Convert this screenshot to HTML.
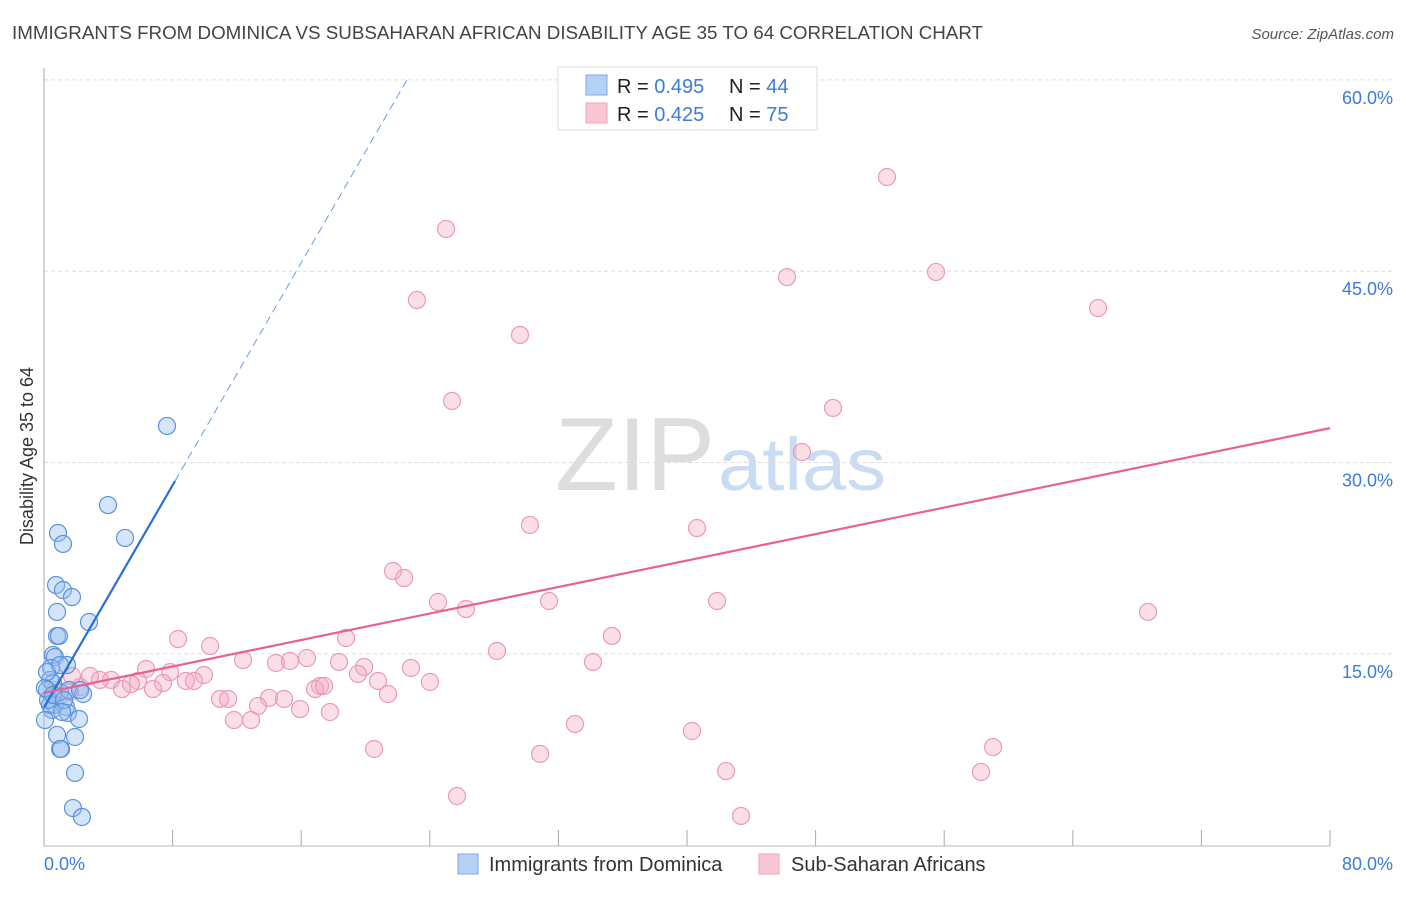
<!DOCTYPE html>
<html><head><meta charset="utf-8"><style>
body{margin:0;background:#fff;font-family:"Liberation Sans",sans-serif}
svg text{font-family:"Liberation Sans",sans-serif}
</style></head><body>
<svg id="chart" width="1406" height="892" xmlns="http://www.w3.org/2000/svg">
<text x="12" y="39" font-size="18.6" fill="#444" textLength="971" lengthAdjust="spacingAndGlyphs">IMMIGRANTS FROM DOMINICA VS SUBSAHARAN AFRICAN DISABILITY AGE 35 TO 64 CORRELATION CHART</text>
<text x="1394" y="39" font-size="15" fill="#555" text-anchor="end" font-style="italic">Source: ZipAtlas.com</text>
<text x="555" y="490" font-size="104" fill="#ddd" font-family="Liberation Serif" textLength="160" lengthAdjust="spacingAndGlyphs">ZIP</text>
<text x="718" y="490" font-size="74" fill="#c9dcf2" textLength="168" lengthAdjust="spacingAndGlyphs">atlas</text>
<g id="grid"></g>
<g id="axes"></g>
<g id="pts"></g>
<g id="trend"></g>
<text transform="translate(33,456) rotate(-90)" font-size="18" fill="#333" text-anchor="middle">Disability Age 35 to 64</text>
<g>
<rect x="558" y="67" width="259" height="63" fill="#fff" stroke="#ddd"/>
<rect x="586" y="75" width="21" height="20" fill="#b5d0f5" stroke="#7ea9e6"/>
<rect x="586" y="103" width="21" height="20" fill="#f9c6d4" stroke="#eea5ba"/>
<text x="617" y="93" font-size="20" fill="#222">R = <tspan fill="#3d7bd9">0.495</tspan></text>
<text x="729" y="93" font-size="20" fill="#222">N = <tspan fill="#3d7bd9">44</tspan></text>
<text x="617" y="121" font-size="20" fill="#222">R = <tspan fill="#3d7bd9">0.425</tspan></text>
<text x="729" y="121" font-size="20" fill="#222">N = <tspan fill="#3d7bd9">75</tspan></text>
</g>
<g>
<rect x="458" y="854" width="20" height="20" fill="#b5d0f5" stroke="#7ea9e6"/>
<text x="489" y="871" font-size="20" fill="#333">Immigrants from Dominica</text>
<rect x="759" y="854" width="20" height="20" fill="#f9c6d4" stroke="#eea5ba"/>
<text x="791" y="871" font-size="20" fill="#333">Sub-Saharan Africans</text>
</g>
</svg>
<script>
const yTicks=[15,30,45,60];
const xTickLabels=["0.0%","80.0%"];
const bluePx=[[108,505],[58,533],[63,544],[125,538],[167,426],[56,585],[63,590],[72,597],[57,612],[89,622],[57,636],[59,636],[53,655],[55,657],[67,665],[51,668],[50,680],[53,683],[47,690],[60,692],[69,690],[83,694],[50,705],[55,705],[66,707],[52,710],[68,713],[79,719],[57,735],[75,737],[60,749],[61,749],[75,773],[73,808],[82,817],[48,700],[45,688],[47,672],[60,665],[53,695],[64,700],[45,720],[80,690],[62,712]];
const pinkPx=[[887,177],[446,229],[936,272],[787,277],[417,300],[1098,308],[520,335],[452,401],[833,408],[802,452],[530,525],[697,528],[393,571],[404,578],[438,602],[466,609],[549,601],[717,601],[1148,612],[178,639],[346,638],[612,636],[210,646],[243,660],[497,651],[276,663],[290,661],[307,658],[339,662],[364,667],[358,674],[411,668],[593,662],[146,669],[170,672],[204,675],[186,681],[194,681],[138,681],[163,683],[153,689],[122,689],[131,684],[111,680],[90,676],[100,680],[80,687],[72,676],[70,692],[60,696],[220,699],[228,699],[269,698],[284,699],[300,709],[378,681],[388,694],[320,686],[315,689],[324,686],[430,682],[330,712],[258,706],[234,720],[251,720],[374,749],[575,724],[540,754],[692,731],[993,747],[726,771],[981,772],[457,796],[741,816],[55,690]];
const blueX=bluePx.map(p=>+((p[0]-44)/16.075).toFixed(2));
const blueY=bluePx.map(p=>+((845.3-p[1])/12.758).toFixed(2));
const pinkX=pinkPx.map(p=>+((p[0]-44)/16.075).toFixed(2));
const pinkY=pinkPx.map(p=>+((845.3-p[1])/12.758).toFixed(2));
const blueTrend=[[0,10.8],[8.15,28.55],[22.58,60]];
const pinkTrend=[[0,11.94],[80,32.7]];
const X=v=>44+v*16.075, Y=v=>845.3-v*12.758;
const NS="http://www.w3.org/2000/svg";
function mk(tag,attrs,parent){const e=document.createElementNS(NS,tag);for(const k in attrs)e.setAttribute(k,attrs[k]);parent.appendChild(e);return e;}
const grid=document.getElementById('grid'),axes=document.getElementById('axes'),pts=document.getElementById('pts'),tr=document.getElementById('trend');
yTicks.forEach(t=>{
 const l=mk('line',{x1:44,x2:1394,y1:Y(t),y2:Y(t),stroke:'#ddd','stroke-dasharray':'4,3'},grid);
 
 
 const tx=mk('text',{x:1393,y:Y(t)+24,'font-size':18,fill:'#3d7bd9','text-anchor':'end'},grid);
 tx.textContent=t.toFixed(1)+'%';
 
 
});
const ax=mk('line',{x1:44,x2:44,y1:68,y2:846,stroke:'#aaa'},axes);


const bx=mk('line',{x1:44,x2:1330,y1:846,y2:846,stroke:'#bbb'},axes);


for(let i=0;i<=10;i++){const t=mk('line',{x1:X(i*8),x2:X(i*8),y1:830,y2:846,stroke:'#aaa'},axes);
 
 }
[[0,44,'start'],[80,1393,'end']].forEach((d,i)=>{const t=mk('text',{x:d[1],y:870,'font-size':18,fill:'#3d7bd9','text-anchor':d[2]},axes);t.textContent=xTickLabels[i];
 
 });
pinkX.forEach((x,i)=>{const c=mk('circle',{cx:X(x),cy:Y(pinkY[i]),r:8.5,fill:'rgba(244,170,195,0.38)',stroke:'#ec9ab4','stroke-width':1.2},pts);
 
 });
blueX.forEach((x,i)=>{const c=mk('circle',{cx:X(x),cy:Y(blueY[i]),r:8.5,fill:'rgba(150,190,240,0.4)',stroke:'#5b92dc','stroke-width':1.2},pts);
 
 });
const b1=mk('line',{x1:X(blueTrend[0][0]),y1:Y(blueTrend[0][1]),x2:X(blueTrend[1][0]),y2:Y(blueTrend[1][1]),stroke:'#2a6fd6','stroke-width':2.2},tr);


const b2=mk('line',{x1:X(blueTrend[1][0]),y1:Y(blueTrend[1][1]),x2:X(blueTrend[2][0]),y2:Y(blueTrend[2][1]),stroke:'#6a9be0','stroke-width':1,'stroke-dasharray':'8,5'},tr);


const p1=mk('line',{x1:X(pinkTrend[0][0]),y1:Y(pinkTrend[0][1]),x2:X(pinkTrend[1][0]),y2:Y(pinkTrend[1][1]),stroke:'#e8628e','stroke-width':2.2},tr);


</script>
</body></html>
